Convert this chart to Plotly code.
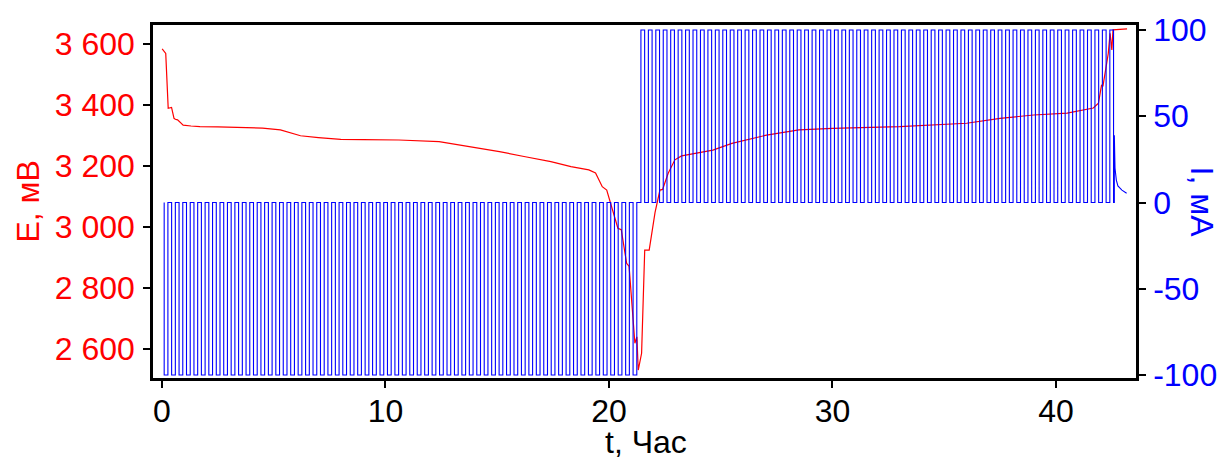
import plotly.graph_objects as go

# ---- Voltage E (mV) vs time (h) ----
t_E = [0.01, 0.17, 0.28, 0.43, 0.54, 0.6, 0.7, 0.95, 1.3, 1.7, 2.5, 3.2, 4.5, 5.3, 6.2, 7.0,
       8.0, 9.0, 10.6, 12.4, 13.3, 14.2, 15.1, 16.2, 17.4, 18.3, 19.1, 19.4, 19.7, 19.9, 20.1,
       20.4, 20.55, 20.79, 20.9, 21.16, 21.25, 21.31, 21.46, 21.6, 21.8, 22.06, 22.28, 22.4,
       22.65, 22.95, 23.25, 23.9, 24.65, 25.5, 27.05, 28.5, 30.0, 33.0, 36.0, 37.5, 39.0,
       40.5, 41.2, 41.67, 41.9, 42.04, 42.1, 42.34, 42.42, 42.5, 42.55, 43.18]
E_mV = [3583, 3568, 3388, 3391, 3355, 3352, 3350, 3333, 3330, 3328, 3327, 3326, 3323, 3317,
        3298, 3292, 3286, 3285, 3284, 3279, 3268, 3258, 3246, 3230, 3213, 3197, 3186, 3176,
        3131, 3120, 3071, 2995, 2990, 2880, 2870, 2618, 2639, 2530, 2585, 2923, 2923, 3046,
        3120, 3122, 3175, 3219, 3232, 3240, 3251, 3273, 3300, 3317, 3322, 3328, 3339, 3355,
        3366, 3372, 3383, 3389, 3405, 3465, 3460, 3568, 3634, 3579, 3645, 3648]

# ---- Current pulse program (mA) ----
pulse_period_h = 0.333
discharge_start_h = 0.1
discharge_pulses = 64
discharge_level = -100
charge_start_h = 21.43
charge_pulses = 64
charge_level = 100
# constant-voltage tail after the last charge pulse
t_tail = [42.61, 42.61, 42.64, 42.7, 42.77, 42.95, 43.16]
I_tail = [0, 39, 20, 13, 9.6, 7.2, 5.4]

# ---- Tick labels ----
x_ticks = [0, 10, 20, 30, 40]
E_ticks = [2600, 2800, 3000, 3200, 3400, 3600]
E_ticklabels = ["2 600", "2 800", "3 000", "3 200", "3 400", "3 600"]
I_ticks = [-100, -50, 0, 50, 100]
I_ticklabels = ["-100", "-50", "0", "50", "100"]


def pulse_train(t0, n, period, level):
    ts, vs = [], []
    for k in range(n):
        a = t0 + k * period
        b = a + period / 2
        ts += [a, a, b, b]
        vs += [0, level, level, 0]
    return ts, vs


td, Id = pulse_train(discharge_start_h, discharge_pulses, pulse_period_h, discharge_level)
tc, Ic = pulse_train(charge_start_h, charge_pulses, pulse_period_h, charge_level)
t_I = td + tc + t_tail
I_mA = Id + Ic + I_tail

RED = "#ff0000"
BLUE = "#0000ff"
FONT = "Liberation Sans, Arial, sans-serif"
FS = 32

fig = go.Figure()
fig.add_trace(go.Scatter(x=t_I, y=I_mA, mode="lines", yaxis="y2",
                         line=dict(color=BLUE, width=1.1), hoverinfo="skip"))
fig.add_trace(go.Scatter(x=t_E, y=E_mV, mode="lines", yaxis="y",
                         line=dict(color=RED, width=1.2), hoverinfo="skip"))

L, R, T, B = 153, 82, 25, 82
W, H = 1218, 460
pw = W - L - R
ph = H - T - B

fig.update_layout(
    template="none",
    width=W, height=H,
    margin=dict(l=L, r=R, t=T, b=B, pad=0, autoexpand=False),
    paper_bgcolor="white", plot_bgcolor="white",
    showlegend=False,
    font=dict(family=FONT, size=FS, color="black"),
    xaxis=dict(range=[-0.4, 43.58], tickvals=x_ticks, ticks="outside", ticklen=7,
               tickwidth=2, tickcolor="black", showline=True, linecolor="black",
               linewidth=2.5, mirror=True, showgrid=False, zeroline=False,
               automargin=False, ticklabelstandoff=-4,
               tickfont=dict(size=FS, color="black", family=FONT)),
    yaxis=dict(range=[2504, 3661], tickvals=E_ticks, ticktext=E_ticklabels,
               ticks="outside", ticklen=7, tickwidth=2, tickcolor="black",
               showline=True, linecolor="black", linewidth=2.5, showgrid=False,
               zeroline=False, automargin=False, ticklabelstandoff=2,
               tickfont=dict(size=FS, color=RED, family=FONT)),
    yaxis2=dict(range=[-101.7, 102.9], tickvals=I_ticks, ticktext=I_ticklabels,
                overlaying="y", side="right", ticks="outside", ticklen=7, tickwidth=2,
                tickcolor="black", showline=True, linecolor="black", linewidth=2.5,
                showgrid=False, zeroline=False, automargin=False, ticklabelstandoff=1,
                tickfont=dict(size=FS, color=BLUE, family=FONT)),
    annotations=[
        dict(text="E, мВ", xref="paper", yref="paper", x=(27 - L) / pw, y=0.5,
             xanchor="center", yanchor="middle", textangle=-90, showarrow=False,
             font=dict(size=FS, color=RED, family=FONT)),
        dict(text="I, мА", xref="paper", yref="paper", x=(1202 - L) / pw, y=0.5,
             xanchor="center", yanchor="middle", textangle=90, showarrow=False,
             font=dict(size=FS, color=BLUE, family=FONT)),
        dict(text="t, Час", xref="paper", yref="paper", x=(646 - L) / pw,
             y=-(442 - (H - B)) / ph, xanchor="center", yanchor="middle",
             showarrow=False, font=dict(size=FS, color="black", family=FONT)),
    ],
)

fig.write_html(
    "out.html",
    config={"displayModeBar": False},
    post_script="document.body.style.margin='0';document.body.style.padding='0';"
                "document.body.style.overflow='hidden';",
)
